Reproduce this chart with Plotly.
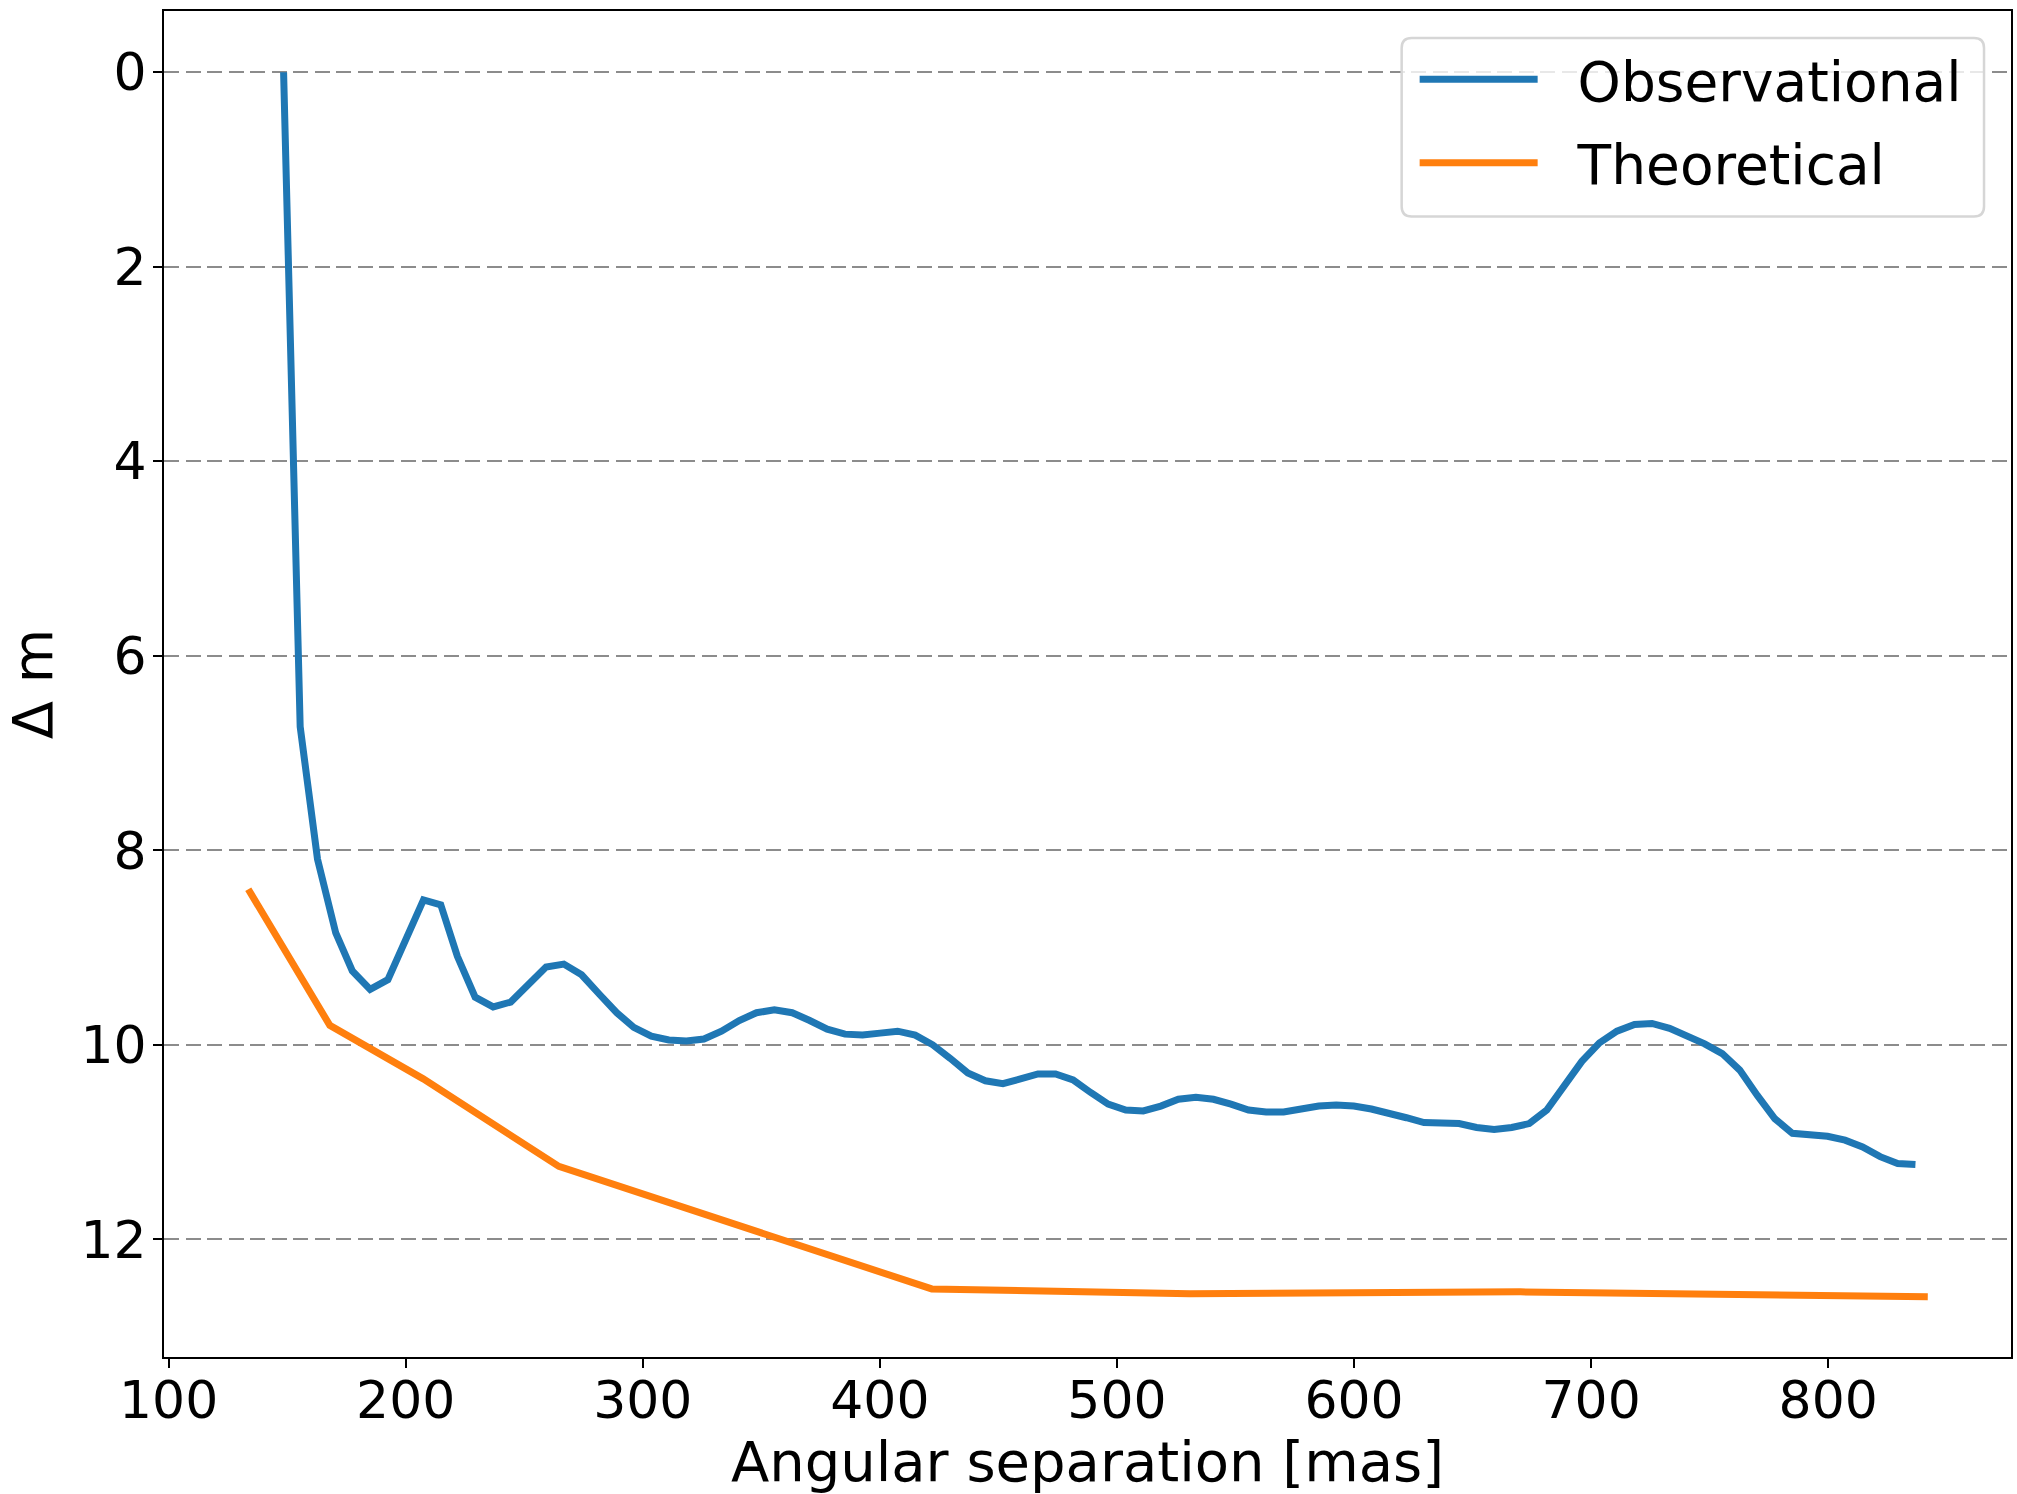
import plotly.graph_objects as go

# ---- data ----
obs_x = [148.5, 155.5, 162.8, 170.5, 177.5, 185.0, 192.5, 200.0, 207.5, 214.8,
         221.8, 229.3, 236.9, 244.3, 251.7, 259.2, 266.7, 274.2, 281.7, 289.0,
         296.2, 303.6, 311.0, 318.4, 325.8, 333.2, 340.7, 348.0, 355.5, 363.0,
         370.4, 377.8, 385.3, 392.7, 400.1, 407.5, 414.9, 422.3, 429.7, 437.1,
         444.5, 451.9, 459.3, 466.7, 474.1, 481.5, 488.9, 496.3, 503.7, 511.1,
         518.5, 525.9, 533.3, 540.7, 548.1, 555.5, 562.9, 570.3, 577.7, 585.1,
         592.5, 599.9, 607.3, 614.7, 622.1, 629.5, 636.9, 644.3, 651.7, 659.1,
         666.5, 673.9, 681.3, 688.7, 696.1, 703.5, 710.9, 718.3, 725.7, 733.1,
         740.5, 747.9, 755.3, 762.7, 770.1, 777.5, 784.9, 792.3, 799.7, 807.1,
         814.5, 821.9, 829.3, 836.8]
obs_y = [0.00, 6.73, 8.09, 8.85, 9.24, 9.43, 9.33, 8.90, 8.51, 8.56,
         9.09, 9.51, 9.61, 9.56, 9.37, 9.20, 9.17, 9.28, 9.48, 9.67,
         9.82, 9.91, 9.95, 9.96, 9.94, 9.86, 9.75, 9.67, 9.64, 9.67,
         9.75, 9.84, 9.89, 9.90, 9.88, 9.86, 9.90, 10.00, 10.14, 10.29,
         10.37, 10.40, 10.35, 10.30, 10.30, 10.36, 10.49, 10.61, 10.67, 10.68,
         10.63, 10.56, 10.54, 10.56, 10.61, 10.67, 10.69, 10.69, 10.66, 10.63,
         10.62, 10.63, 10.66, 10.70, 10.75, 10.80, 10.81, 10.81, 10.85, 10.87,
         10.85, 10.81, 10.67, 10.43, 10.17, 9.98, 9.86, 9.79, 9.78, 9.83,
         9.91, 9.99, 10.09, 10.26, 10.52, 10.76, 10.91, 10.93, 10.94, 10.98,
         11.05, 11.15, 11.22, 11.23]

theo_x = [133.6, 168.0, 207.4, 264.6, 421.9, 530.8, 670.1, 842.0]
theo_y = [8.40, 9.80, 10.35, 11.25, 12.51, 12.56, 12.54, 12.59]

x_ticks = [100, 200, 300, 400, 500, 600, 700, 800]
y_ticks = [0, 2, 4, 6, 8, 10, 12]

series_names = ["Observational", "Theoretical"]
x_title = "Angular separation [mas]"
y_title = "Δ m"

# ---- figure ----
W, H = 2017, 1494
L, R, T, B = 164, 4, 11, 134
FONT = "DejaVu Sans"
GAP = "\u00a0\u00a0"  # spacing between legend line sample and label

fig = go.Figure()
fig.add_trace(go.Scatter(x=obs_x, y=obs_y, mode="lines", name=GAP + series_names[0],
                         legendgroup="a",
                         line=dict(color="#1f77b4", width=7)))
fig.add_trace(go.Scatter(x=theo_x, y=theo_y, mode="lines", name=GAP + series_names[1],
                         legendgroup="b",
                         line=dict(color="#ff7f0e", width=7)))

pw = W - L - R
ph = H - T - B
def px2x(p):
    return (p - L) / pw
def px2y(p):
    return 1 - (p - T) / ph

# rounded legend frame (matplotlib style)
x0, x1, y0, y1 = px2x(1403), px2x(1986), px2y(38), px2y(217)
rx, ry = 10 / pw, 10 / ph
path = (f"M{x0+rx},{y0} L{x1-rx},{y0} Q{x1},{y0} {x1},{y0-ry} "
        f"L{x1},{y1+ry} Q{x1},{y1} {x1-rx},{y1} L{x0+rx},{y1} "
        f"Q{x0},{y1} {x0},{y1+ry} L{x0},{y0-ry} Q{x0},{y0} {x0+rx},{y0} Z")
fig.add_shape(type="path", path=path, xref="paper", yref="paper",
              fillcolor="rgba(255,255,255,0.8)",
              line=dict(color="#d6d6d6", width=2.5), layer="above")

fig.update_layout(
    width=W, height=H,
    margin=dict(l=L, r=R, t=T, b=B, pad=0),
    paper_bgcolor="white", plot_bgcolor="white",
    font=dict(family=FONT, color="black", size=52),
    showlegend=True,
    legend=dict(x=px2x(1416), y=px2y(37), xanchor="left", yanchor="top",
                bgcolor="rgba(0,0,0,0)", borderwidth=0,
                font=dict(family=FONT, size=55, color="black"),
                itemwidth=118, traceorder="grouped", tracegroupgap=9),
    xaxis=dict(range=[98.06, 877.1], tickvals=x_ticks,
               ticktext=[str(v) for v in x_ticks],
               showgrid=False, zeroline=False,
               showline=True, linecolor="black", linewidth=2, mirror=True,
               ticks="outside", ticklen=9, tickwidth=2, tickcolor="black",
               ticklabelstandoff=-12,
               tickfont=dict(family=FONT, size=52, color="black"),
               title=dict(text=x_title, font=dict(family=FONT, size=56, color="black"),
                          standoff=20)),
    yaxis=dict(range=[13.21, -0.63], tickvals=y_ticks,
               ticktext=[str(v) for v in y_ticks],
               showgrid=True, gridcolor="#8c8c8c", gridwidth=1.8,
               griddash="15px,6.5px", zeroline=False,
               showline=True, linecolor="black", linewidth=2, mirror=True,
               ticks="outside", ticklen=9, tickwidth=2, tickcolor="black",
               ticklabelstandoff=-4,
               tickfont=dict(family=FONT, size=52, color="black"),
               title=dict(text=y_title, font=dict(family=FONT, size=56, color="black"),
                          standoff=12)),
)

fig.write_html("out.html")
